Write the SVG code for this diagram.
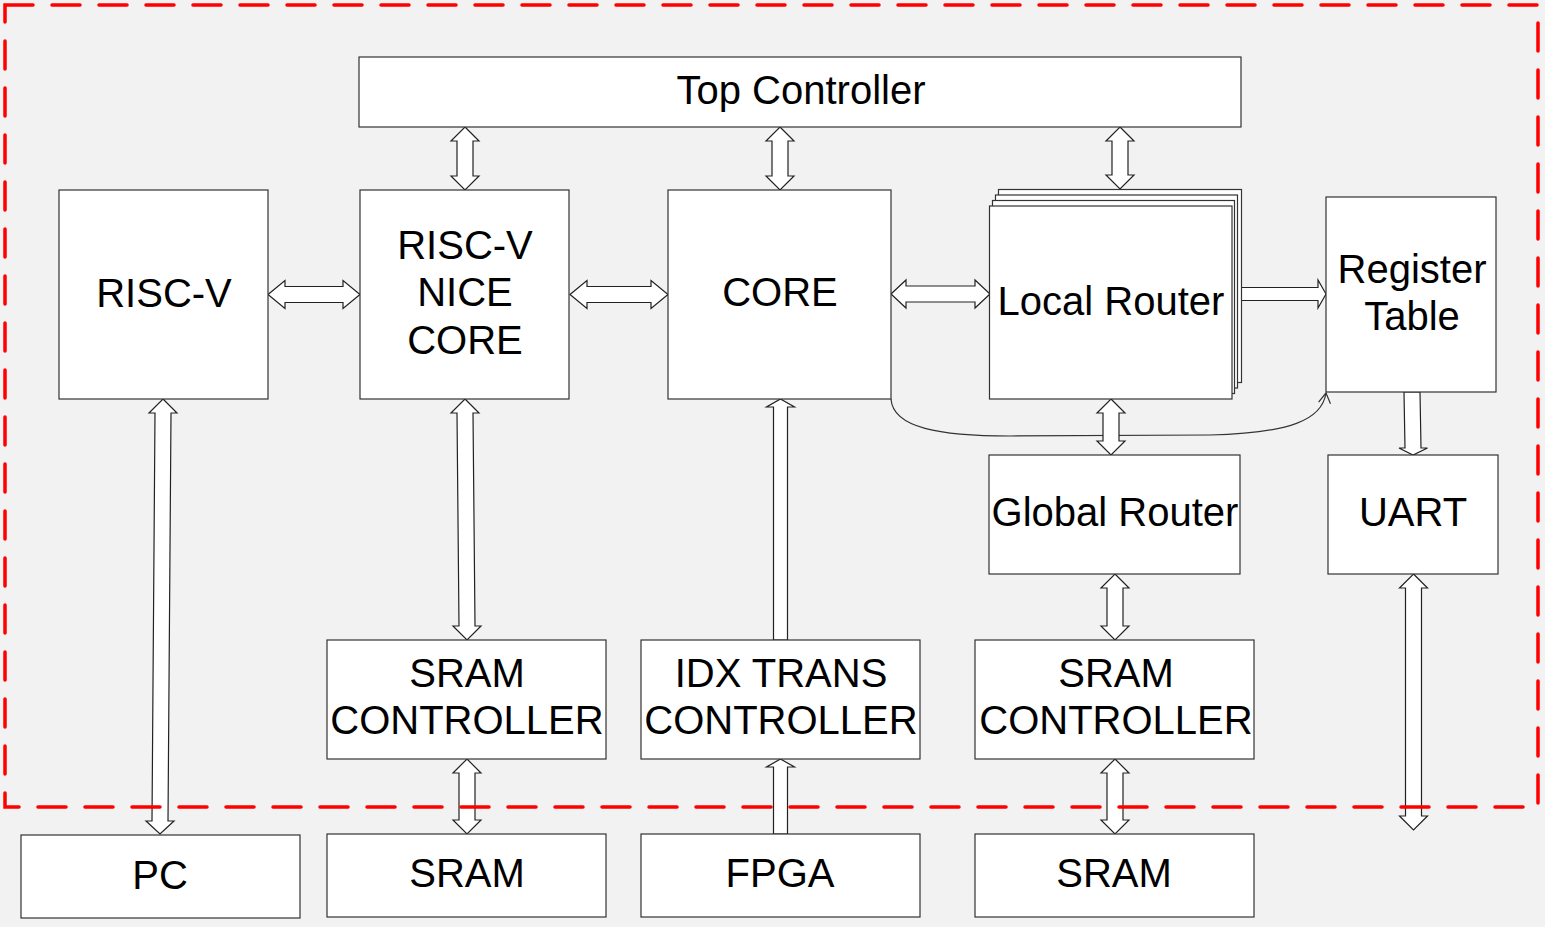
<svg xmlns="http://www.w3.org/2000/svg" width="1545" height="927" viewBox="0 0 1545 927">
<defs>
<style>
.box{fill:#ffffff;stroke:#333333;stroke-width:1.2}
.t{font-family:"Liberation Sans",Arial,sans-serif;font-size:40px;fill:#000000;text-anchor:middle}
.arr{fill:#ffffff;stroke:#222222;stroke-width:1.2;stroke-linejoin:miter}
.border{fill:none;stroke:#ff0000;stroke-width:3.5;stroke-dasharray:28 19;stroke-linecap:round}
.curve{fill:none;stroke:#333333;stroke-width:1.2}
</style>
<marker id="openArrow" markerWidth="14" markerHeight="14" refX="11" refY="7" orient="auto" markerUnits="userSpaceOnUse">
<path d="M1,1 L11,7 L1,13" fill="none" stroke="#333333" stroke-width="1.2"/>
</marker>
</defs>
<rect x="0" y="0" width="1545" height="927" fill="#f2f2f2"/>

<g id="connectors">
<path class="curve" d="M891,399 C893,428 940,436 1010,436 L1210,435 C1290,433 1322,420 1326,393" marker-end="url(#openArrow)"/>
<polygon class="arr" points="465,127 479,141 473,141 473,176 479,176 465,190 451,176 457,176 457,141 451,141"/>
<polygon class="arr" points="780,127 794,141 788,141 788,176 794,176 780,190 766,176 772,176 772,141 766,141"/>
<polygon class="arr" points="1120,127 1134,141 1128,141 1128,175 1134,175 1120,189 1106,175 1112,175 1112,141 1106,141"/>
<polygon class="arr" points="268,294.5 285,280.5 285,286.5 343,286.5 343,280.5 360,294.5 343,308.5 343,302.5 285,302.5 285,308.5"/>
<polygon class="arr" points="570,294.5 587,280.5 587,286.5 651,286.5 651,280.5 668,294.5 651,308.5 651,302.5 587,302.5 587,308.5"/>
<polygon class="arr" points="891,294 906,280 906,286 975,286 975,280 990,294 975,308 975,302 906,302 906,308"/>
<polygon class="arr" points="1241,287.5 1318,287.5 1318,280 1326,294 1318,308 1318,300.5 1241,300.5"/>
<polygon class="arr" points="163,399 177,413 171,413 168,821 174,821 160,834 146,821 152,821 155,413 149,413"/>
<polygon class="arr" points="465,399 479,413 473,413 475,626 481,626 467,640 453,626 459,626 457,413 451,413"/>
<polygon class="arr" points="467,759 481,773 475,773 475,820 481,820 467,834 453,820 459,820 459,773 453,773"/>
<polygon class="arr" points="780.5,399 794.5,407 787.5,407 787.5,640 773.5,640 773.5,407 766.5,407"/>
<polygon class="arr" points="780.5,759 794.5,767 787.5,767 787.5,834 773.5,834 773.5,767 766.5,767"/>
<polygon class="arr" points="1111,399 1125,413 1119,413 1119,441 1125,441 1111,455 1097,441 1103,441 1103,413 1097,413"/>
<polygon class="arr" points="1115,574 1129,588 1123,588 1123,626 1129,626 1115,640 1101,626 1107,626 1107,588 1101,588"/>
<polygon class="arr" points="1115,759 1129,773 1123,773 1123,820 1129,820 1115,834 1101,820 1107,820 1107,773 1101,773"/>
<polygon class="arr" points="1404,392 1420,392 1421,448 1427.5,448 1413,455 1399,448 1405,448"/>
<polygon class="arr" points="1413.5,574 1427.5,588 1421.5,588 1421.5,816 1427.5,816 1413.5,830 1399.5,816 1405.5,816 1405.5,588 1399.5,588"/>
</g>

<g id="top-controller">
<rect class="box" x="359" y="57" width="882" height="70"/>
<text class="t" x="801" y="104">Top Controller</text>
</g>
<g id="risc-v">
<rect class="box" x="59" y="190" width="209" height="209"/>
<text class="t" x="164" y="307">RISC-V</text>
</g>
<g id="nice-core">
<rect class="box" x="360" y="190" width="209" height="209"/>
<text class="t" x="465" y="259">RISC-V</text>
<text class="t" x="465" y="306">NICE</text>
<text class="t" x="465" y="354">CORE</text>
</g>
<g id="core">
<rect class="box" x="668" y="190" width="223" height="209"/>
<text class="t" x="780" y="306">CORE</text>
</g>
<g id="local-router">
<rect class="box" x="998.5" y="189.5" width="243" height="193"/>
<rect class="box" x="995.5" y="195" width="242" height="193"/>
<rect class="box" x="992.5" y="200.5" width="242" height="193"/>
<rect class="box" x="989.5" y="206" width="242.5" height="193"/>
<text class="t" x="1111" y="315">Local Router</text>
</g>
<g id="register-table">
<rect class="box" x="1326" y="197" width="170" height="195"/>
<text class="t" x="1412" y="283">Register</text>
<text class="t" x="1412" y="330">Table</text>
</g>
<g id="global-router">
<rect class="box" x="989" y="455" width="251" height="119"/>
<text class="t" x="1115" y="526">Global Router</text>
</g>
<g id="uart">
<rect class="box" x="1328" y="455" width="170" height="119"/>
<text class="t" x="1413" y="526">UART</text>
</g>
<g id="sram-controller-1">
<rect class="box" x="327" y="640" width="279" height="119"/>
<text class="t" x="467" y="687">SRAM</text>
<text class="t" x="467" y="734">CONTROLLER</text>
</g>
<g id="idx-trans-controller">
<rect class="box" x="641" y="640" width="279" height="119"/>
<text class="t" x="781" y="687">IDX TRANS</text>
<text class="t" x="781" y="734">CONTROLLER</text>
</g>
<g id="sram-controller-2">
<rect class="box" x="975" y="640" width="279" height="119"/>
<text class="t" x="1116" y="687">SRAM</text>
<text class="t" x="1116" y="734">CONTROLLER</text>
</g>
<g id="pc">
<rect class="box" x="21" y="835" width="279" height="83"/>
<text class="t" x="160" y="889">PC</text>
</g>
<g id="sram-1">
<rect class="box" x="327" y="834" width="279" height="83"/>
<text class="t" x="467" y="887">SRAM</text>
</g>
<g id="fpga">
<rect class="box" x="641" y="834" width="279" height="83"/>
<text class="t" x="780" y="887">FPGA</text>
</g>
<g id="sram-2">
<rect class="box" x="975" y="834" width="279" height="83"/>
<text class="t" x="1114" y="887">SRAM</text>
</g>

<g id="boundary">
<rect class="border" x="5" y="5" width="1533" height="802"/>
</g>
</svg>
